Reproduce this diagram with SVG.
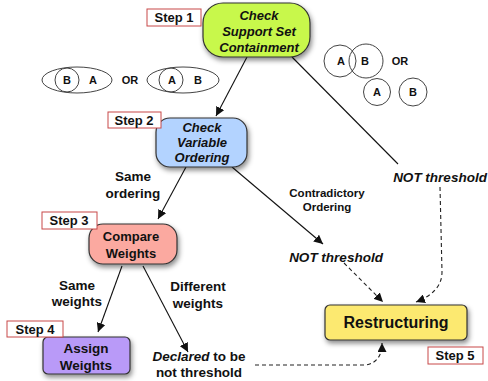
<svg xmlns="http://www.w3.org/2000/svg" width="488" height="381" viewBox="0 0 488 381">
<defs>
<filter id="sh" x="-20%" y="-20%" width="150%" height="160%">
<feDropShadow dx="1.5" dy="3" stdDeviation="2.5" flood-color="#000" flood-opacity="0.45"/>
</filter>
<marker id="ah" viewBox="0 0 10 10" refX="10" refY="5" markerWidth="9" markerHeight="9" markerUnits="userSpaceOnUse" orient="auto">
<path d="M0,0 L10,5 L0,10 z" fill="#111"/>
</marker>
</defs>
<style>
.node{stroke:#333;stroke-width:1.2;filter:url(#sh)}
.t{font-family:"Liberation Sans",Arial,sans-serif;font-weight:bold;text-anchor:middle;fill:#111}
.it{font-style:italic}
.lab{fill:#fff;stroke:#c84848;stroke-width:1}
.e{fill:none;stroke:#111;stroke-width:1.1}
.d{fill:none;stroke:#222;stroke-width:1.1;stroke-dasharray:4,3}
.set{fill:none;stroke:#444;stroke-width:1}
</style>

<g id="connectors">
<path class="e" d="M247,57 L216,116" marker-end="url(#ah)"/>
<path class="e" d="M292,57 L398,164"/>
<path class="e" d="M186,167 L158,219" marker-end="url(#ah)"/>
<path class="e" d="M232,167 L323,244" marker-end="url(#ah)"/>
<path class="e" d="M122,266 L98,332" marker-end="url(#ah)"/>
<path class="e" d="M143,266 L188,352" marker-end="url(#ah)"/>
<path class="d" d="M440,187 L442,272 Q442,292 416,302" marker-end="url(#ah)"/>
<path class="d" d="M344,263 L383,302" marker-end="url(#ah)"/>
<path class="d" d="M255,365 L366,365 Q382,362 382,343" marker-end="url(#ah)"/>
</g>

<g id="step1">
<rect class="node" x="203" y="3" width="107" height="54" rx="20" fill="#c8f84c"/>
<text class="t it" x="259" y="20" font-size="13">Check</text>
<text class="t it" x="259" y="36" font-size="13">Support Set</text>
<text class="t it" x="259" y="52" font-size="13">Containment</text>
<rect class="lab" x="147" y="9" width="54" height="17"/>
<text class="t" x="174" y="22" font-size="13">Step 1</text>
</g>

<g id="sets-contained">
<ellipse class="set" cx="77" cy="80" rx="35" ry="13"/>
<circle class="set" cx="67" cy="80" r="12"/>
<text class="t" x="67" y="84" font-size="11">B</text>
<text class="t" x="93" y="84" font-size="11">A</text>
<text class="t" x="130" y="84" font-size="11">OR</text>
<ellipse class="set" cx="183" cy="80" rx="36" ry="13"/>
<circle class="set" cx="171" cy="80" r="12"/>
<text class="t" x="172" y="84" font-size="11">A</text>
<text class="t" x="198" y="84" font-size="11">B</text>
</g>

<g id="sets-not-contained">
<circle class="set" cx="340" cy="61" r="16"/>
<circle class="set" cx="366" cy="61" r="17"/>
<text class="t" x="341" y="65" font-size="11">A</text>
<text class="t" x="365" y="65" font-size="11">B</text>
<text class="t" x="400" y="65" font-size="11">OR</text>
<circle class="set" cx="377" cy="92" r="13.5"/>
<circle class="set" cx="413" cy="92" r="14"/>
<text class="t" x="377" y="96" font-size="11">A</text>
<text class="t" x="413" y="96" font-size="11">B</text>
</g>

<g id="step2">
<rect class="node" x="156" y="118" width="91" height="49" rx="14" fill="#b3d3ff"/>
<text class="t it" x="202" y="132" font-size="13">Check</text>
<text class="t it" x="202" y="147" font-size="13">Variable</text>
<text class="t it" x="202" y="162" font-size="13">Ordering</text>
<rect class="lab" x="108" y="112" width="53" height="16"/>
<text class="t" x="134" y="125" font-size="13">Step 2</text>
</g>

<g id="step3">
<rect class="node" x="89" y="224" width="88" height="40" rx="14" fill="#fba9a0"/>
<text class="t" x="131" y="241" font-size="13">Compare</text>
<text class="t" x="131" y="258" font-size="13">Weights</text>
<rect class="lab" x="42" y="212" width="55" height="17"/>
<text class="t" x="69" y="225" font-size="13">Step 3</text>
</g>

<g id="step4">
<rect class="node" x="43" y="337" width="87" height="37" rx="5" fill="#b99af8"/>
<text class="t" x="86" y="353" font-size="13.5">Assign</text>
<text class="t" x="86" y="370" font-size="13.5">Weights</text>
<rect class="lab" x="7" y="321" width="56" height="16"/>
<text class="t" x="35" y="334" font-size="13">Step 4</text>
</g>

<g id="step5">
<rect class="node" x="325" y="305" width="142" height="35" rx="5" fill="#fce970"/>
<text class="t" x="396" y="328" font-size="16">Restructuring</text>
<rect class="lab" x="428" y="347" width="55" height="17"/>
<text class="t" x="455" y="360" font-size="13">Step 5</text>
</g>

<g id="labels">
<text class="t" x="133" y="181" font-size="13.5">Same</text>
<text class="t" x="133" y="198" font-size="13.5">ordering</text>
<text class="t" x="327" y="197" font-size="11.5">Contradictory</text>
<text class="t" x="327" y="211" font-size="11.5">Ordering</text>
<text class="t it" x="440" y="182" font-size="13.5">NOT threshold</text>
<text class="t it" x="336" y="262" font-size="13.5">NOT threshold</text>
<text class="t" x="77" y="290" font-size="13.5">Same</text>
<text class="t" x="77" y="306" font-size="13.5">weights</text>
<text class="t" x="198" y="291" font-size="13.5">Different</text>
<text class="t" x="198" y="308" font-size="13.5">weights</text>
<text class="t" x="199" y="361" font-size="13.5"><tspan font-style="italic">Declared</tspan> to be</text>
<text class="t" x="199" y="377" font-size="13.5">not threshold</text>
</g>
</svg>
